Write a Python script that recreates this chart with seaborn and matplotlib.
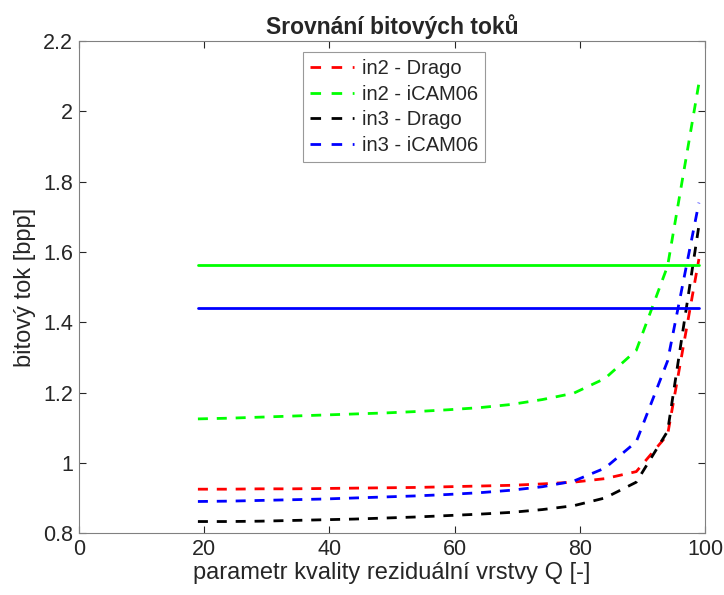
import numpy as np
import pandas as pd
import seaborn as sns
import matplotlib
matplotlib.use("Agg")
import matplotlib.pyplot as plt

# parametr kvality Q
q = [19, 24, 29, 34, 39, 44, 49, 54, 59, 64, 69, 74, 79, 84, 89, 94, 99]

in2_drago = [0.925, 0.925, 0.926, 0.926, 0.927, 0.928, 0.929, 0.930, 0.932,
             0.934, 0.936, 0.940, 0.945, 0.955, 0.975, 1.08, 1.58]
in2_icam = [1.125, 1.127, 1.130, 1.133, 1.136, 1.139, 1.142, 1.146, 1.151,
            1.157, 1.166, 1.180, 1.198, 1.240, 1.32, 1.56, 2.08]
in3_drago = [0.833, 0.833, 0.834, 0.836, 0.838, 0.840, 0.843, 0.846, 0.850,
             0.854, 0.859, 0.867, 0.878, 0.900, 0.945, 1.09, 1.675]
in3_icam = [0.890, 0.891, 0.893, 0.895, 0.897, 0.900, 0.903, 0.906, 0.910,
            0.915, 0.922, 0.932, 0.948, 0.985, 1.06, 1.29, 1.74]

# referencni bitove toky (plne cary)
ref_in2 = 1.564
ref_in3 = 1.441

series = ["in2 - Drago", "in2 - iCAM06", "in3 - Drago", "in3 - iCAM06"]
colors = ["#ff0000", "#00ff00", "#000000", "#0000ff"]

df = pd.DataFrame({
    "Q": q * 4,
    "bpp": in2_drago + in2_icam + in3_drago + in3_icam,
    "serie": np.repeat(series, len(q)),
})

sns.set_style("white")
plt.rcParams["font.family"] = ["Liberation Sans", "DejaVu Sans"]

fig = plt.figure(figsize=(7.24, 5.95), dpi=100)
ax = fig.add_axes([0.109, 0.104, 0.865, 0.827])

sns.lineplot(data=df, x="Q", y="bpp", hue="serie", palette=colors,
             hue_order=series, linewidth=2, ax=ax)
for line in ax.get_lines():
    line.set_linestyle((0, (3.6, 3.2)))

# horizontal reference lines
ax.plot([q[0], q[-1]], [ref_in2, ref_in2], color="#00ff00", lw=2)
ax.plot([q[0], q[-1]], [ref_in3, ref_in3], color="#0000ff", lw=2)

ax.set_xlim(0, 100)
ax.set_ylim(0.8, 2.2)
ax.set_xticks([0, 20, 40, 60, 80, 100])
ax.set_yticks([0.8, 1, 1.2, 1.4, 1.6, 1.8, 2, 2.2])
ax.set_yticklabels(["0.8", "1", "1.2", "1.4", "1.6", "1.8", "2", "2.2"])
ax.tick_params(direction="in", length=5, width=0.8, color="#262626",
               labelsize=15.5, labelcolor="#262626", top=True, right=True,
               left=True, bottom=True, pad=4)
for sp in ax.spines.values():
    sp.set_visible(True)
    sp.set_color("#808080")
    sp.set_linewidth(0.8)

ax.set_xlabel("parametr kvality reziduální vrstvy Q [-]", fontsize=17,
              color="#262626", labelpad=2)
ax.set_ylabel("bitový tok [bpp]", fontsize=17, color="#262626", labelpad=5)
ax.set_title("Srovnání bitových toků", fontsize=16.5, fontweight="bold", pad=5)

handles, labels = ax.get_legend_handles_labels()
leg = ax.legend(handles[:4], labels[:4], loc="upper left",
                bbox_to_anchor=(0.358, 0.977), fontsize=14.5, frameon=True,
                fancybox=False, edgecolor="#808080", handlelength=2.2,
                borderpad=0.35, labelspacing=0.32, handletextpad=0.35,
                borderaxespad=0)
leg.get_frame().set_linewidth(0.8)
for h in leg.get_lines():
    h.set_linestyle((0, (3.8, 3.8)))

fig.savefig("out.png", dpi=100)
